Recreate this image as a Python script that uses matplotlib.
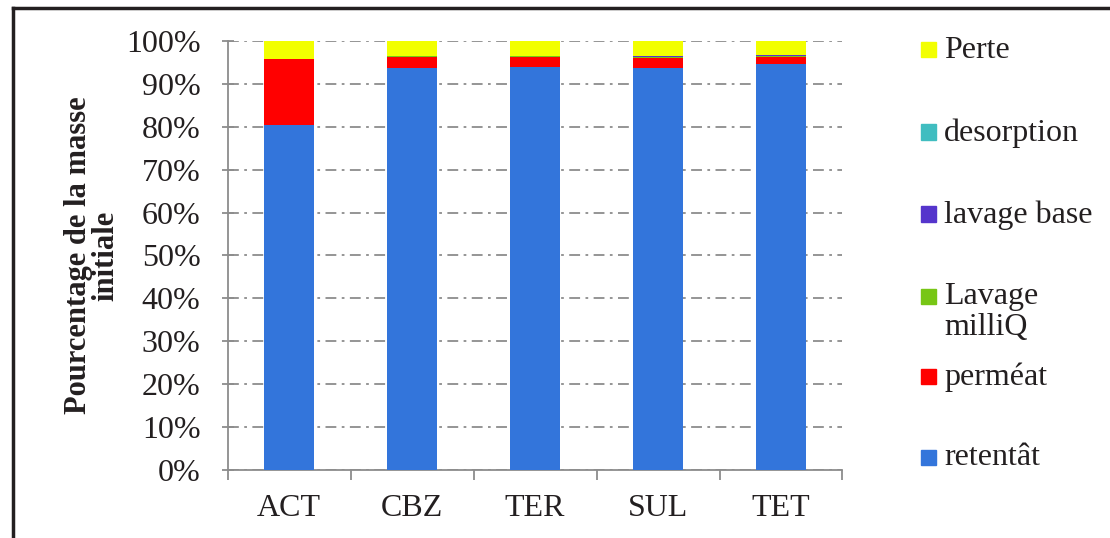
import numpy as np
import matplotlib
matplotlib.use('Agg')
import matplotlib.pyplot as plt
from matplotlib.ticker import PercentFormatter, FixedLocator
from matplotlib.patches import Rectangle
from matplotlib.lines import Line2D

plt.rcParams['font.family'] = 'Liberation Serif'

# Mass balance per compound (% of initial mass)
composes = ['ACT', 'CBZ', 'TER', 'SUL', 'TET']
retentat = [80.4, 93.7, 94.0, 93.6, 94.7]
permeat = [15.3, 2.5, 2.2, 2.5, 1.6]
lavage_milliq = [0.1, 0.2, 0.2, 0.2, 0.1]
lavage_base = [0.1, 0.1, 0.1, 0.1, 0.3]
desorption = [0.0, 0.1, 0.1, 0.0, 0.1]
perte = [4.1, 3.4, 3.4, 3.6, 3.2]

series = [
    ('retentât', retentat, '#3375DB'),
    ('perméat', permeat, '#FF0000'),
    ('Lavage\nmilliQ', lavage_milliq, '#77C615'),
    ('lavage base', lavage_base, '#5535CC'),
    ('desorption', desorption, '#40BDC0'),
    ('Perte', perte, '#F2FF00'),
]

fig = plt.figure(figsize=(11.1, 5.38), dpi=100)
ax = fig.add_axes([0.205, 0.1264, 0.554, 0.7974])

x = np.arange(len(composes))
bottom = np.zeros(len(composes))
for name, vals, color in series:
    ax.bar(x, vals, width=0.4, bottom=bottom, color=color, zorder=3)
    bottom += np.array(vals)

ax.set_xlim(-0.5, len(composes) - 0.5)
ax.set_ylim(0, 100)
ax.set_yticks(np.arange(0, 101, 10))
ax.yaxis.set_major_formatter(PercentFormatter(decimals=0))
ax.set_xticks(x)
ax.set_xticklabels(composes)
ax.xaxis.set_minor_locator(FixedLocator(np.arange(-0.5, len(composes), 1)))

gray = '#8C8C8C'
ax.grid(axis='y', color=gray, linestyle=(0, (6, 3, 1.5, 3)), linewidth=1.3, zorder=0)
for side in ['top', 'right']:
    ax.spines[side].set_visible(False)
for side in ['left', 'bottom']:
    ax.spines[side].set_color(gray)
    ax.spines[side].set_linewidth(1.3)

ax.tick_params(axis='y', direction='inout', length=9, width=1.3, color=gray,
               labelsize=23, pad=15, labelcolor='#231F20')
ax.tick_params(axis='x', which='major', length=0, labelsize=23, pad=17,
               labelcolor='#231F20')
ax.tick_params(axis='x', which='minor', direction='out', length=7, width=1.3,
               color=gray)

fig.text(0.083, 0.525, 'Pourcentage de la masse\ninitiale', rotation=90,
         ha='center', va='center', fontsize=22, fontweight='bold',
         linespacing=0.95, color='#231F20')

# legend entries, top to bottom
legend_y = [50, 132, 214, 296, 376, 457]
for (name, vals, color), ypix in zip(reversed(series), legend_y):
    yf = 1 - ypix / 538
    fig.patches.append(Rectangle((921 / 1110, yf - 7.5 / 538), 15 / 1110, 15 / 538,
                                 transform=fig.transFigure, color=color))
    fig.text(944 / 1110, yf + 14 / 538, name, ha='left', va='top', fontsize=23,
             linespacing=1.1, color='#231F20')

# outer frame
fig.lines.append(Line2D([13 / 1110, 13 / 1110], [0, 1 - 8 / 538],
                        transform=fig.transFigure, color='#231F20', linewidth=2.5))
fig.lines.append(Line2D([13 / 1110, 1], [1 - 8 / 538, 1 - 8 / 538],
                        transform=fig.transFigure, color='#231F20', linewidth=2.5))

fig.savefig('out.png', dpi=100)
